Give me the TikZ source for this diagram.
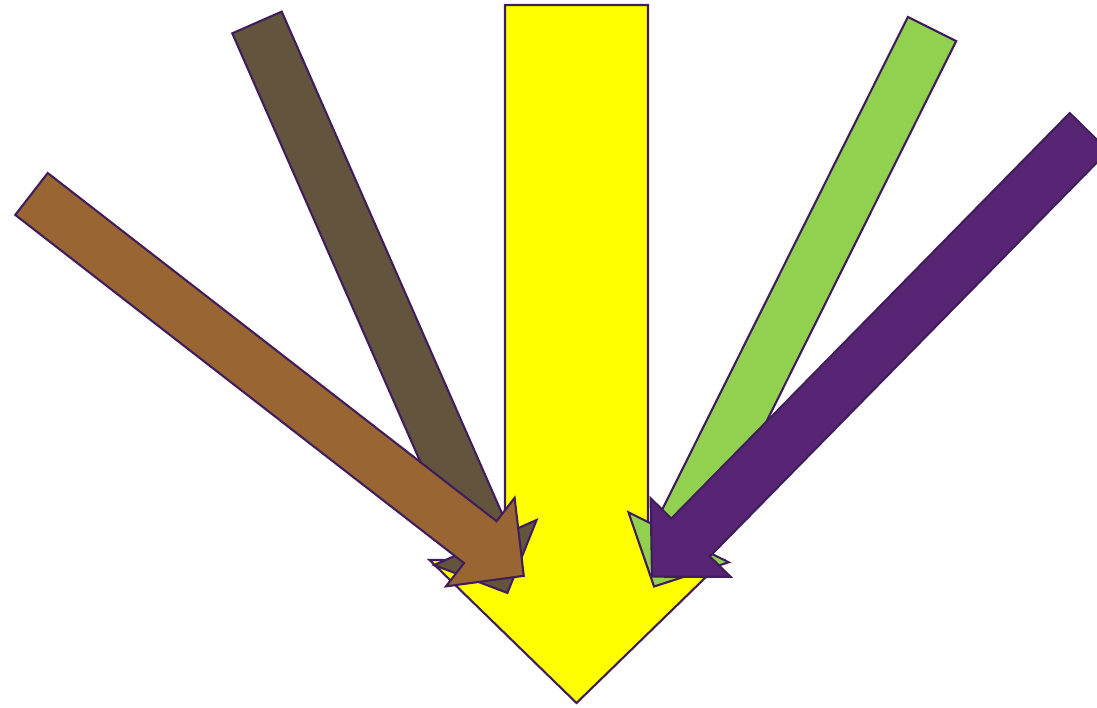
\documentclass[tikz,border=0pt]{standalone}
\usetikzlibrary{calc}
\definecolor{rim}{RGB}{64,30,92}
\definecolor{sun}{RGB}{255,255,0}
\definecolor{clay}{RGB}{153,102,51}
\definecolor{bark}{RGB}{99,84,62}
\definecolor{lime}{RGB}{146,208,80}
\definecolor{plum}{RGB}{88,37,116}
\tikzset{
  shape line/.style={draw=rim,line width=1.2pt,line join=miter},
  % block arrow pointing along +x: length / shaft half width / head half width / head length
  pics/blockarrow/.style args={#1/#2/#3/#4}{code={
    \path[pic actions] (0,-#2) -- ({#1-#4},-#2) -- ({#1-#4},-#3) -- (#1,0)
      -- ({#1-#4},#3) -- ({#1-#4},#2) -- (0,#2) -- cycle;
  }},
}
\begin{document}
\begin{tikzpicture}[x=0.02cm,y=0.02cm]
  \clip (0,0) rectangle (1097,707);
  \useasboundingbox (0,0) rectangle (1097,707);
  % tails of the arrows
  \coordinate (sun tail) at (576.5,702);
  \coordinate (bark tail) at (257,684.5);
  \coordinate (lime tail) at (932,678);
  \coordinate (clay tail) at (31.5,513);
  \coordinate (plum tail) at (1089,575);
  \pic[shape line,fill=sun,rotate=-90] at (sun tail) {blockarrow=698/71.5/147/143};
  \pic[shape line,fill=bark,rotate=-66.3] at (bark tail) {blockarrow=623/27/56/55};
  \pic[shape line,fill=lime,rotate=-116.5] at (lime tail) {blockarrow=623/27/56/55};
  \pic[shape line,fill=clay,rotate=-37.8] at (clay tail) {blockarrow=623/26.5/56/55};
  \pic[shape line,fill=plum,rotate=-134.5] at (plum tail) {blockarrow=623.5/27/56/55};
\end{tikzpicture}
\end{document}
